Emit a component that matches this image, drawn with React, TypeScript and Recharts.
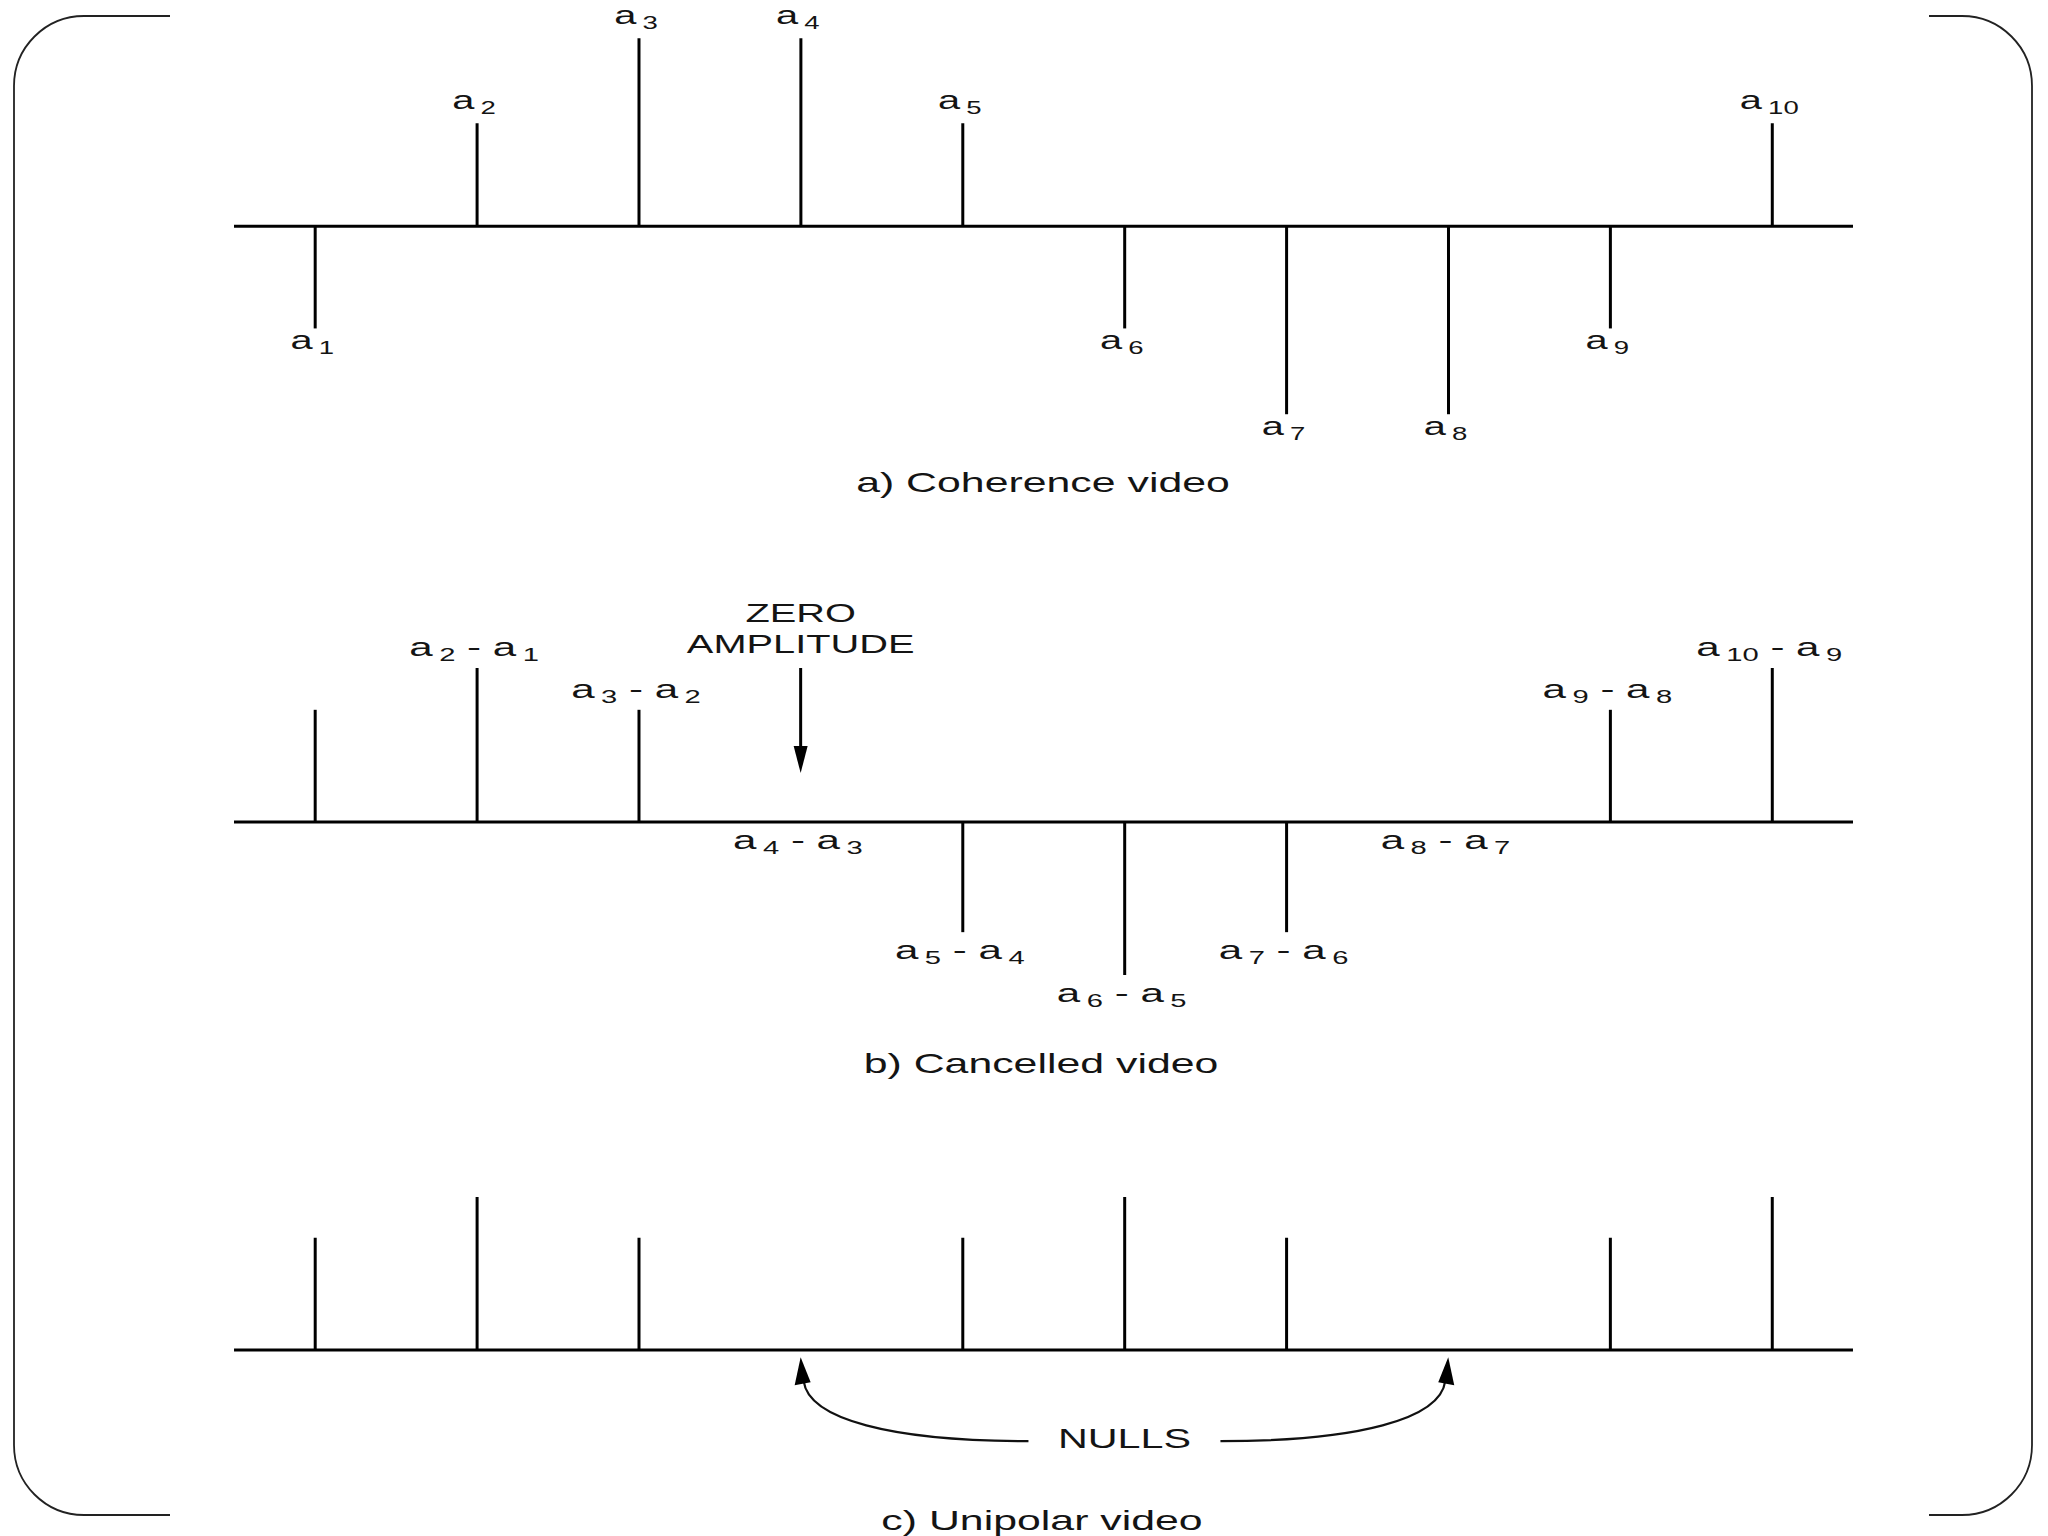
import React from 'react';
import { BarChart, Bar, XAxis, YAxis, ReferenceLine, LabelList } from 'recharts';

// pulse numbers (subscripts) and the three pulse trains, in amplitude units
const pulses = ['1', '2', '3', '4', '5', '6', '7', '8', '9', '10'];
const coherent = [-1.0, 1.01, 1.84, 1.84, 1.01, -1.0, -1.84, -1.84, -1.0, 1.01];
const cancelled = [1.1, 1.51, 1.1, 0, -1.08, -1.5, -1.08, 0, 1.1, 1.51];
const unipolar = [1.1, 1.5, 1.1, 0, 1.1, 1.5, 1.1, 0, 1.1, 1.5];
const cancelledPairs: (string[] | null)[] = [
  null, ['2', '1'], ['3', '2'], ['4', '3'], ['5', '4'],
  ['6', '5'], ['7', '6'], ['8', '7'], ['9', '8'], ['10', '9'],
];
const captions = ['a) Coherence video', 'b) Cancelled video', 'c) Unipolar video'];
const zeroNote = ['ZERO', 'AMPLITUDE'];
const nullsNote = 'NULLS';

const toRows = (vals: number[]) => pulses.map((p, i) => ({ name: p, v: vals[i] }));

const W = 2048;
const FONT = '"Liberation Sans", Arial, Helvetica, sans-serif';
const SX = 1.53;
const INK = '#141414';
const MARGIN_X = { left: 234, right: 195 };

const Stretched = ({ x, y, size, sx = SX, children }: any) => (
  <text
    transform={`translate(${x} ${y}) scale(${sx} 1)`}
    textAnchor="middle"
    fontSize={size}
    fontFamily={FONT}
    fill={INK}
    style={{ whiteSpace: 'pre' }}
  >
    {children}
  </text>
);

const Stem = (props: any) => {
  const { x, y, width, height } = props;
  if (!height) return null;
  const cx = x + width / 2;
  return <line x1={cx} x2={cx} y1={y} y2={y + height} stroke="#000" strokeWidth={3} />;
};

const box = (p: any) => {
  const vb = p.viewBox && p.viewBox.width !== undefined ? p.viewBox : p;
  const top = Math.min(vb.y, vb.y + vb.height);
  const bottom = Math.max(vb.y, vb.y + vb.height);
  return { cx: vb.x + vb.width / 2, top, bottom };
};

const CoherentLabel = (p: any) => {
  const { cx, top, bottom } = box(p);
  const v = Number(p.value);
  const base = v > 0 ? top - 14 : bottom + 21;
  return (
    <Stretched x={cx - 3} y={base} size={26}>
      a<tspan fontSize={18} dx={4} dy={5}>{pulses[p.index]}</tspan>
    </Stretched>
  );
};

const CancelledLabel = (p: any) => {
  const pair = cancelledPairs[p.index];
  if (!pair) return null;
  const { cx, top, bottom } = box(p);
  const v = Number(p.value);
  const base = v > 0 ? top - 12 : bottom + 27;
  return (
    <Stretched x={cx - 3} y={base} size={26} sx={1.62}>
      a<tspan fontSize={18} dx={4} dy={5}>{pair[0]}</tspan>
      <tspan dy={-5}>{' - '}</tspan>a
      <tspan fontSize={18} dx={4} dy={5}>{pair[1]}</tspan>
    </Stretched>
  );
};

const ZeroArrow = (p: any) => {
  const { x1, y1, y2 } = p;
  return (
    <g>
      <line x1={x1} x2={x1} y1={y1} y2={y2 - 20} stroke="#000" strokeWidth={3} />
      <polygon points={`${x1 - 7},${y2 - 27} ${x1 + 7},${y2 - 27} ${x1},${y2}`} fill="#000" />
      <Stretched x={x1} y={y1 - 46} size={26}>{zeroNote[0]}</Stretched>
      <Stretched x={x1} y={y1 - 15} size={26}>{zeroNote[1]}</Stretched>
    </g>
  );
};

const NullsArrows = (p: any) => {
  const { x1, x2, y1 } = p;
  const y = y1;
  const mid = (x1 + x2) / 2;
  const m = (x: number) => x1 + x2 - x;
  const left = `M${x1 + 3},${y + 24} C${x1 + 8},${y + 62} ${x1 + 90},${y + 84} ${mid - 96},${y + 84}`;
  const right = `M${m(x1 + 3)},${y + 24} C${m(x1 + 8)},${y + 62} ${m(x1 + 90)},${y + 84} ${mid + 96},${y + 84}`;
  return (
    <g>
      <path d={left} fill="none" stroke="#111" strokeWidth={2.2} />
      <path d={right} fill="none" stroke="#111" strokeWidth={2.2} />
      <polygon points={`${x1},${y} ${x1 - 6},${y + 28} ${x1 + 10},${y + 25}`} fill="#000" />
      <polygon points={`${x2},${y} ${x2 + 6},${y + 28} ${x2 - 10},${y + 25}`} fill="#000" />
      <Stretched x={mid} y={y + 91} size={27}>{nullsNote}</Stretched>
    </g>
  );
};

const Panel = ({ rows, top, height, mTop, mBottom, domain, label, children }: any) => (
  <div style={{ position: 'absolute', left: 0, top, width: W, height }}>
    <BarChart
      width={W}
      height={height}
      data={rows}
      margin={{ top: mTop, bottom: mBottom, ...MARGIN_X }}
    >
      <XAxis dataKey="name" hide />
      <YAxis type="number" domain={domain} allowDataOverflow hide />
      <ReferenceLine y={0} stroke="#000" strokeWidth={3} />
      <Bar dataKey="v" shape={Stem} isAnimationActive={false}>
        {label && <LabelList dataKey="v" content={label} />}
      </Bar>
      {children}
    </BarChart>
  </div>
);

export default function App() {
  return (
    <div
      style={{
        position: 'absolute',
        left: 0,
        top: 0,
        width: W,
        height: 1536,
        overflow: 'hidden',
        background: '#fff',
      }}
    >
      <svg width={W} height={1536} style={{ position: 'absolute', left: 0, top: 0 }}>
        <path
          d="M170 16 H84 A70 70 0 0 0 14 86 V1445 A70 70 0 0 0 84 1515 H170"
          fill="none" stroke="#222" strokeWidth={1.8}
        />
        <path
          d="M1929 16 H1962 A70 70 0 0 1 2032 86 V1445 A70 70 0 0 1 1962 1515 H1929"
          fill="none" stroke="#222" strokeWidth={1.8}
        />
        <Stretched x={1043} y={492} size={28}>{captions[0]}</Stretched>
        <Stretched x={1041} y={1073} size={28}>{captions[1]}</Stretched>
        <Stretched x={1042} y={1530} size={28}>{captions[2]}</Stretched>
      </svg>

      <Panel rows={toRows(coherent)} top={0} height={471} mTop={1.6} mBottom={20}
        domain={[-2.2, 2.2]} label={CoherentLabel} />

      <Panel rows={toRows(cancelled)} top={600} height={446} mTop={18} mBottom={20}
        domain={[-2, 2]} label={CancelledLabel}>
        <ReferenceLine
          segment={[{ x: pulses[3], y: 1.51 }, { x: pulses[3], y: 0.48 }]}
          shape={ZeroArrow}
        />
      </Panel>

      <Panel rows={toRows(unipolar)} top={1130} height={352.4} mTop={16} mBottom={10}
        domain={[-1.2, 2.0]}>
        <ReferenceLine
          segment={[{ x: pulses[3], y: -0.07 }, { x: pulses[7], y: -0.07 }]}
          shape={NullsArrows}
        />
      </Panel>
    </div>
  );
}
